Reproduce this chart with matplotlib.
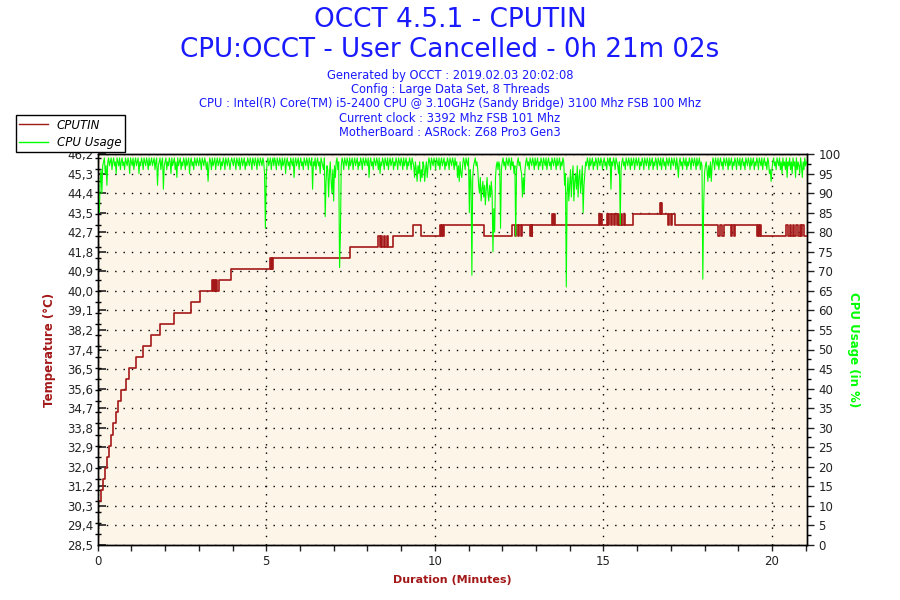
import matplotlib
matplotlib.use('Agg')
import numpy as np
import matplotlib.pyplot as plt
from matplotlib.lines import Line2D

# CPUTIN temperature (step changes: minute, degC)
temp_t = [0.00, 0.10, 0.17, 0.22, 0.29, 0.33, 0.41, 0.47, 0.54, 0.61, 0.69, 0.84, 0.93, 1.13, 1.35, 1.59, 1.84, 2.27, 2.77, 3.04,
          3.39, 3.42, 3.45, 3.48, 3.51, 3.54, 3.59, 3.96,
          5.10, 5.13, 5.16, 5.18, 5.20, 7.48,
          8.33, 8.36, 8.39, 8.42, 8.50, 8.53, 8.58, 8.62, 8.77,
          9.36, 9.58,
          10.15, 10.18, 10.21, 10.24, 10.27, 11.47,
          12.28, 12.39, 12.42, 12.46, 12.50, 12.55, 12.58, 12.82, 12.85, 12.87, 12.89,
          13.48, 13.51, 13.54, 13.58,
          14.86, 14.89, 14.92, 14.96,
          15.12, 15.15, 15.18, 15.23, 15.27, 15.31, 15.35, 15.39, 15.43, 15.47, 15.52, 15.56, 15.60, 15.65, 15.87,
          16.68, 16.70, 16.72, 16.74,
          16.93, 16.96, 17.00, 17.04, 17.11,
          18.41, 18.46, 18.53, 18.58, 18.78, 18.82, 18.86, 18.90,
          19.56, 19.60, 19.63, 19.66, 19.69,
          20.43, 20.47, 20.53, 20.57, 20.62, 20.66, 20.72, 20.76, 20.82, 20.86, 20.90, 20.95, 21.03]
temp_v = [30.5, 31.0, 31.5, 32.0, 32.5, 33.0, 33.5, 34.0, 34.5, 35.0, 35.5, 36.0, 36.5, 37.0, 37.5, 38.0, 38.5, 39.0, 39.5, 40.0,
          40.5, 40.0, 40.5, 40.0, 40.5, 40.0, 40.5, 41.0,
          41.5, 41.0, 41.5, 41.0, 41.5, 42.0,
          42.5, 42.0, 42.5, 42.0, 42.5, 42.0, 42.5, 42.0, 42.5,
          43.0, 42.5,
          43.0, 42.5, 43.0, 42.5, 43.0, 42.5,
          43.0, 42.5, 43.0, 42.5, 43.0, 42.5, 43.0, 42.5, 43.0, 42.5, 43.0,
          43.5, 43.0, 43.5, 43.0,
          43.5, 43.0, 43.5, 43.0,
          43.5, 43.0, 43.5, 43.0, 43.5, 43.0, 43.5, 43.0, 43.5, 43.0, 43.5, 43.0, 43.5, 43.0, 43.5,
          44.0, 43.5, 44.0, 43.5,
          43.0, 43.5, 43.0, 43.5, 43.0,
          42.5, 43.0, 42.5, 43.0, 42.5, 43.0, 42.5, 43.0,
          42.5, 43.0, 42.5, 43.0, 42.5,
          43.0, 42.5, 43.0, 42.5, 43.0, 42.5, 43.0, 42.5, 43.0, 42.5, 43.0, 42.5, 42.5]

# CPU usage in %, one sample every 1.5 s (0.025 min), one row = one minute
usage_step = 0.025
usage = [
    88, 86, 85, 93, 96, 90, 97, 98, 99, 95, 97, 92, 98, 99, 97, 98, 99, 96, 98, 99,
    97, 98, 95, 99, 98, 97, 99, 96, 98, 99, 97, 98, 96, 99, 98, 97, 99, 98, 95, 99,
    98, 97, 99, 96, 98, 99, 97, 98, 99, 95, 98, 97, 99, 98, 96, 99, 98, 97, 99, 98,
    96, 99, 97, 98, 99, 97, 98, 99, 96, 98, 99, 92, 97, 98, 99, 96, 98, 99, 91, 97,
    98, 99, 96, 98, 97, 99, 98, 95, 99, 97, 98, 99, 96, 98, 94, 99, 97, 98, 99, 96,
    98, 97, 99, 98, 96, 99, 97, 98, 99, 95, 98, 99, 97, 98, 96, 99, 98, 97, 99, 98,
    97, 99, 98, 96, 99, 98, 97, 99, 98, 96, 98, 93, 97, 99, 98, 96, 99, 97, 98, 99,
    96, 98, 99, 97, 98, 99, 96, 98, 97, 99, 98, 96, 99, 98, 97, 99, 98, 96, 98, 99,
    98, 97, 99, 98, 96, 99, 98, 97, 99, 96, 98, 99, 97, 98, 99, 96, 98, 97, 99, 98,
    97, 99, 98, 96, 99, 98, 97, 99, 98, 96, 99, 98, 97, 99, 98, 97, 99, 98, 95, 81,
    94, 98, 99, 97, 98, 99, 96, 98, 99, 97, 99, 98, 96, 99, 98, 97, 99, 98, 96, 99,
    97, 98, 99, 95, 98, 99, 97, 98, 96, 99, 98, 97, 99, 94, 98, 99, 97, 98, 99, 96,
    98, 99, 97, 98, 96, 99, 98, 97, 99, 98, 96, 99, 98, 97, 99, 91, 98, 97, 99, 96,
    98, 99, 97, 98, 95, 99, 98, 97, 96, 99, 84, 93, 97, 96, 89, 95, 98, 93, 90, 96,
    88, 97, 94, 98, 99, 96, 98, 71, 79, 97, 99, 98, 96, 99, 98, 97, 99, 98, 96, 99,
    97, 98, 99, 96, 98, 99, 97, 98, 99, 96, 98, 97, 99, 98, 96, 99, 98, 97, 99, 98,
    97, 99, 94, 98, 99, 97, 98, 96, 99, 98, 97, 99, 98, 96, 99, 95, 98, 97, 99, 98,
    96, 99, 98, 97, 99, 96, 98, 99, 97, 98, 99, 96, 98, 97, 99, 98, 96, 99, 98, 97,
    99, 98, 96, 99, 97, 98, 99, 96, 98, 97, 99, 98, 96, 99, 98, 97, 94, 98, 96, 93,
    97, 95, 98, 93, 96, 94, 98, 97, 93, 96, 98, 94, 97, 99, 98, 96, 99, 98, 97, 99,
    98, 96, 99, 98, 97, 99, 96, 98, 99, 97, 98, 99, 96, 98, 97, 99, 98, 96, 99, 98,
    97, 99, 98, 96, 99, 97, 98, 94, 97, 93, 98, 95, 94, 97, 99, 98, 96, 99, 98, 97,
    99, 85, 96, 93, 69, 94, 97, 98, 99, 97, 98, 96, 92, 90, 94, 88, 91, 93, 89, 92,
    87, 91, 94, 90, 88, 92, 89, 93, 90, 75, 86, 80, 94, 97, 98, 96, 98, 97, 81, 96,
    98, 99, 97, 98, 96, 99, 98, 97, 99, 98, 96, 99, 97, 98, 95, 97, 79, 96, 98, 99,
    97, 98, 96, 95, 89, 94, 90, 96, 98, 99, 97, 98, 96, 99, 98, 97, 99, 98, 96, 99,
    97, 98, 99, 96, 98, 97, 99, 98, 96, 99, 98, 97, 99, 96, 98, 99, 97, 98, 96, 99,
    98, 97, 99, 98, 96, 99, 97, 98, 99, 96, 98, 97, 99, 98, 92, 95, 66, 90, 94, 88,
    92, 96, 89, 94, 97, 88, 93, 95, 91, 97, 89, 94, 96, 90, 93, 97, 85, 92, 95, 98,
    97, 99, 98, 96, 99, 97, 98, 99, 96, 98, 97, 99, 98, 96, 99, 98, 97, 99, 98, 96,
    98, 99, 97, 98, 96, 99, 98, 97, 99, 91, 98, 97, 99, 98, 96, 99, 98, 97, 95, 98,
    82, 96, 98, 99, 97, 98, 96, 99, 98, 97, 99, 98, 96, 99, 97, 98, 99, 96, 98, 99,
    97, 98, 99, 96, 98, 97, 99, 98, 96, 99, 98, 97, 99, 98, 96, 99, 97, 98, 99, 96,
    98, 97, 99, 98, 96, 99, 98, 97, 99, 96, 98, 99, 97, 98, 96, 99, 98, 97, 99, 98,
    96, 99, 98, 97, 99, 98, 96, 99, 97, 94, 98, 99, 97, 98, 96, 99, 98, 97, 99, 96,
    98, 97, 99, 98, 96, 99, 98, 97, 99, 98, 96, 99, 97, 98, 99, 96, 98, 97, 68, 87,
    95, 97, 98, 96, 93, 97, 94, 98, 93, 97, 99, 98, 96, 99, 98, 97, 99, 96, 98, 99,
    97, 98, 96, 99, 98, 97, 99, 98, 96, 99, 97, 98, 99, 96, 98, 97, 99, 98, 96, 99,
    98, 97, 99, 96, 98, 99, 97, 98, 96, 99, 98, 97, 99, 98, 96, 99, 97, 98, 99, 96,
    98, 97, 99, 98, 96, 99, 98, 97, 99, 96, 98, 99, 97, 98, 96, 99, 98, 95, 96, 93,
    96, 98, 99, 97, 98, 96, 99, 98, 97, 99, 96, 98, 95, 99, 97, 98, 96, 99, 94, 98,
    97, 99, 96, 98, 95, 99, 97, 98, 94, 99, 96, 98, 97, 95, 99, 97, 94, 98, 96, 99,
    97, 98]

temp_labels = ['28,5', '29,4', '30,3', '31,2', '32,0', '32,9', '33,8', '34,7', '35,6', '36,5', '37,4',
               '38,2', '39,1', '40,0', '40,9', '41,8', '42,7', '43,5', '44,4', '45,3', '46,2']
usage_ticks = list(range(0, 101, 5))
x_ticks = [0, 5, 10, 15, 20]

header = ['Generated by OCCT : 2019.02.03 20:02:08',
          'Config : Large Data Set, 8 Threads',
          'CPU : Intel(R) Core(TM) i5-2400 CPU @ 3.10GHz (Sandy Bridge) 3100 Mhz FSB 100 Mhz',
          'Current clock : 3392 Mhz FSB 101 Mhz',
          'MotherBoard : ASRock: Z68 Pro3 Gen3']

red = '#A31818'
green = '#00FF00'
blue = '#1A1AFF'

fig = plt.figure(figsize=(9, 6), dpi=100)
ax = fig.add_axes([0.1085, 0.0917, 0.7878, 0.6516])
ax.set_facecolor('#FDF6E8')

t_min, t_max = 0, 21.03
lo, hi = 28.5, 46.2
ax.set_xlim(t_min, t_max)
ax.set_ylim(lo, hi)

ax.step(temp_t, temp_v, where='post', color=red, lw=1.2, zorder=3)

temp_ticks = np.linspace(lo, hi, len(temp_labels))
ax.set_yticks(temp_ticks)
ax.set_yticklabels(temp_labels)
ax.set_yticks(np.arange(29.0, hi, 0.5), minor=True)
ax.set_xticks(x_ticks)
ax.set_xticks(range(0, 22), minor=True)
ax.tick_params(axis='y', which='major', direction='in', length=6, width=1.2, labelsize=8.5, pad=3, colors='#222222')
ax.tick_params(axis='y', which='minor', direction='inout', length=5, width=1)
ax.tick_params(axis='x', which='both', direction='out', length=4, width=1, labelsize=8.5, colors='#222222')
ax.grid(True, which='major', color='black', linestyle=(0, (1, 5)), linewidth=1.0)

ax2 = ax.twinx()
ax2.set_ylim(0, 100)
t_usage = np.arange(len(usage)) * usage_step
ax2.plot(t_usage, usage, color=green, lw=0.8, zorder=2)
ax2.set_yticks(usage_ticks)
ax2.set_yticks(np.arange(2.5, 100, 5), minor=True)
ax2.tick_params(axis='y', which='major', direction='out', length=5, width=1, labelsize=8.5, colors='#222222')
ax2.tick_params(axis='y', which='minor', direction='out', length=3, width=1)

for a in (ax, ax2):
    for s in a.spines.values():
        s.set_color('black')
        s.set_linewidth(1)

ax.set_xlabel('Duration (Minutes)', color=red, fontsize=8, fontweight='bold', labelpad=5)
ax.set_ylabel('Temperature (°C)', color=red, fontsize=8.5, fontweight='bold', labelpad=8)
ax2.set_ylabel('CPU Usage (in %)', color=green, fontsize=8.5, fontweight='bold', rotation=270, labelpad=14)

fig.text(0.5, 1 - 20 / 600, 'OCCT 4.5.1 - CPUTIN', ha='center', va='center', fontsize=19, color=blue)
fig.text(0.5, 1 - 50 / 600, 'CPU:OCCT - User Cancelled - 0h 21m 02s', ha='center', va='center', fontsize=18.8, color=blue)
for i, line in enumerate(header):
    fig.text(0.5, 1 - (76 + 14 * i) / 600, line, ha='center', va='center', fontsize=8.3, color=blue)

handles = [Line2D([], [], color=red, lw=1), Line2D([], [], color=green, lw=1)]
leg = fig.legend(handles, ['CPUTIN', 'CPU Usage'], loc='upper left', bbox_to_anchor=(0.0174, 0.8083),
                 borderaxespad=0, fancybox=False, framealpha=1, edgecolor='black',
                 handlelength=2.4, labelspacing=0.35, borderpad=0.3, handletextpad=0.8,
                 prop={'style': 'italic', 'size': 8.5})
leg.get_frame().set_linewidth(1)

fig.savefig('out.png', dpi=100)
